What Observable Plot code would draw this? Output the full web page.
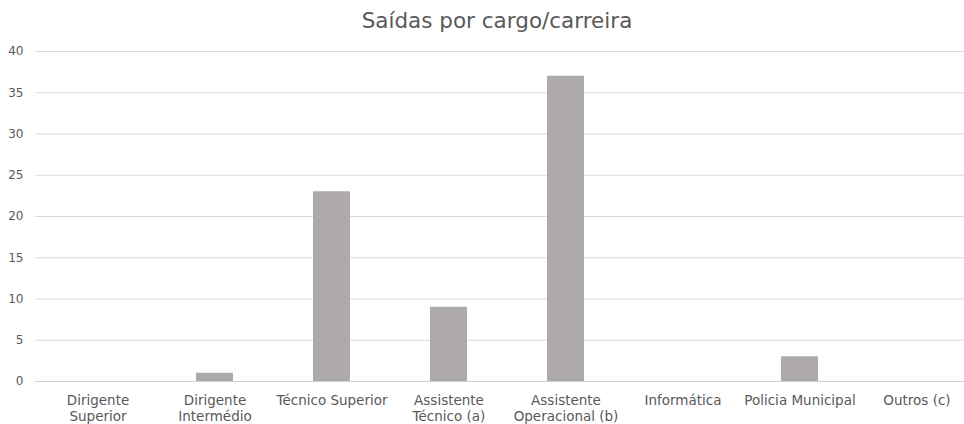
<!DOCTYPE html>
<html><head><meta charset="utf-8">
<script src="https://cdn.jsdelivr.net/npm/d3@7"></script>
<script src="https://cdn.jsdelivr.net/npm/@observablehq/plot@0.6"></script>
<style>
body{margin:0;background:#fff;font-family:"DejaVu Sans",sans-serif;overflow:hidden;}
#title{height:40px;line-height:42px;text-align:center;font-size:21.5px;color:#595959;padding-left:30px;}
</style></head>
<body>
<div id="title">Saídas por cargo/carreira</div>
<div id="chart"></div>
<script>
const categories = ["Dirigente\nSuperior","Dirigente\nIntermédio","Técnico Superior","Assistente\nTécnico (a)","Assistente\nOperacional (b)","Informática","Policia Municipal","Outros (c)"];
const values = [0,1,23,9,37,0,3,0];
const yTicks = [0,5,10,15,20,25,30,35,40];
const data = categories.map((c,i)=>({cat:c, v:values[i]}));
const chart = Plot.plot({
  width:964, height:384,
  marginLeft:35, marginRight:0, marginTop:11, marginBottom:43,
  style:{fontFamily:"DejaVu Sans, sans-serif", color:"#595959", overflow:"visible"},
  x:{domain:categories, paddingInner:0.685, paddingOuter:0.3425, range:[36,978], label:null},
  y:{domain:[0,40], ticks:yTicks, label:null},
  marks:[
    Plot.gridY(yTicks,{stroke:"#d9d9d9", strokeOpacity:1}),
    Plot.barY(data,{x:"cat", y:"v", fill:"#aeaaaa"}),
    Plot.ruleY([0],{stroke:"#d0d0d0"}),
    Plot.axisY(yTicks,{tickSize:0, tickPadding:12, fontSize:12, fill:"#595959", label:null}),
    Plot.axisX({tickSize:0, tickPadding:12, fontSize:13.5, fill:"#595959", lineHeight:1.2, label:null})
  ]
});
document.getElementById("chart").appendChild(chart);
</script>
</body></html>
